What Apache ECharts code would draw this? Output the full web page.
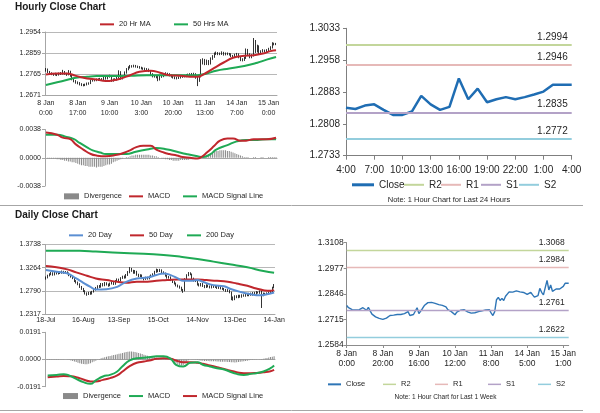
<!DOCTYPE html>
<html><head><meta charset="utf-8">
<script src="https://cdn.jsdelivr.net/npm/echarts@6/dist/echarts.min.js"></script>
<style>html,body{margin:0;padding:0;background:#fff}#c{width:600px;height:413px}</style>
</head><body><div id="c"></div>
<script>
// ---------- DATA ----------
const hourDays = [['8 Jan',0,23],['9 Jan',0,23],['10 Jan',0,23],['11 Jan',0,22],['14 Jan',0,23],['15 Jan',0,4]];
const hourlyClose = [1.2786,1.2775,1.2769,1.2765,1.2762,1.2764,1.2762,1.2765,1.2767,1.2775,
 1.2767,1.2762,1.2777,1.2759,1.2742,1.2734,1.2728,1.2725,1.2720,1.2717,
 1.2715,1.2717,1.2722,1.2723,1.2735,1.2739,1.2737,1.2739,1.2740,1.2742,
 1.2740,1.2749,1.2745,1.2754,1.2755,1.2735,1.2739,1.2740,1.2747,1.2775,
 1.2745,1.2755,1.2771,1.2786,1.2794,1.2801,1.2799,1.2802,1.2799,1.2797,
 1.2794,1.2791,1.2789,1.2787,1.2786,1.2779,1.2765,1.2755,1.2755,1.2752,
 1.2739,1.2752,1.2755,1.2762,1.2767,1.2765,1.2759,1.2754,1.2750,1.2747,
 1.2747,1.2749,1.2752,1.2755,1.2755,1.2759,1.2762,1.2764,1.2765,1.2765,
 1.2749,1.2735,1.2755,1.2816,1.2828,1.2812,1.2823,1.2812,1.2834,1.2843,
 1.2856,1.2860,1.2855,1.2856,1.2861,1.2853,1.2856,1.2856,1.2853,1.2846,
 1.2843,1.2851,1.2854,1.2841,1.2829,1.2829,1.2837,1.2874,1.2854,1.2841,
 1.2848,1.2915,1.2866,1.2891,1.2859,1.2866,1.2871,1.2866,1.2871,1.2877,
 1.2884,1.2900,1.2900,1.2900];
const hourlyFirstOpen = 1.2780;
const hourlyHigh = [1.2792,1.2790,1.2779,1.2773,1.2770,1.2771,1.2768,1.2772,1.2774,1.2784,
 1.2779,1.2771,1.2783,1.2780,1.2762,1.2746,1.2738,1.2732,1.2729,1.2724,
 1.2721,1.2722,1.2727,1.2728,1.2740,1.2744,1.2743,1.2745,1.2746,1.2748,
 1.2747,1.2755,1.2753,1.2760,1.2762,1.2759,1.2745,1.2746,1.2753,1.2782,
 1.2778,1.2760,1.2777,1.2792,1.2800,1.2806,1.2805,1.2807,1.2806,1.2803,
 1.2801,1.2798,1.2795,1.2794,1.2792,1.2790,1.2782,1.2769,1.2761,1.2759,
 1.2756,1.2757,1.2761,1.2768,1.2773,1.2771,1.2769,1.2763,1.2758,1.2755,
 1.2753,1.2755,1.2758,1.2761,1.2761,1.2764,1.2767,1.2769,1.2770,1.2771,
 1.2769,1.2753,1.2760,1.2832,1.2836,1.2833,1.2830,1.2828,1.2840,1.2850,
 1.2862,1.2866,1.2864,1.2862,1.2867,1.2865,1.2862,1.2862,1.2860,1.2858,
 1.2851,1.2856,1.2860,1.2858,1.2845,1.2836,1.2843,1.2880,1.2878,1.2858,
 1.2854,1.2927,1.2918,1.2897,1.2894,1.2872,1.2877,1.2875,1.2877,1.2883,
 1.2890,1.2908,1.2906,1.2905];
const hourlyLow = [1.2776,1.2770,1.2764,1.2760,1.2757,1.2758,1.2756,1.2758,1.2761,1.2763,
 1.2762,1.2757,1.2759,1.2753,1.2737,1.2728,1.2722,1.2719,1.2714,1.2711,
 1.2710,1.2711,1.2714,1.2717,1.2720,1.2731,1.2732,1.2733,1.2734,1.2736,
 1.2734,1.2736,1.2740,1.2741,1.2749,1.2730,1.2731,1.2734,1.2736,1.2744,
 1.2740,1.2741,1.2751,1.2767,1.2782,1.2790,1.2794,1.2795,1.2794,1.2792,
 1.2789,1.2786,1.2784,1.2782,1.2780,1.2774,1.2760,1.2750,1.2749,1.2746,
 1.2733,1.2736,1.2748,1.2751,1.2758,1.2760,1.2755,1.2749,1.2745,1.2742,
 1.2741,1.2743,1.2745,1.2748,1.2750,1.2751,1.2755,1.2758,1.2759,1.2759,
 1.2744,1.2711,1.2730,1.2750,1.2808,1.2805,1.2806,1.2805,1.2808,1.2829,
 1.2838,1.2851,1.2850,1.2850,1.2851,1.2848,1.2849,1.2850,1.2848,1.2841,
 1.2838,1.2839,1.2847,1.2836,1.2823,1.2822,1.2824,1.2833,1.2848,1.2836,
 1.2836,1.2844,1.2860,1.2862,1.2854,1.2855,1.2862,1.2861,1.2862,1.2867,
 1.2873,1.2880,1.2894,1.2895];
const hourlyMA20 = [[0,1.2763],[6,1.2768],[11,1.2768],[16,1.2757],[22,1.2745],[27,1.2741],[32,1.2734],[36,1.2737],[40,1.2745],[45,1.2760],[50,1.2775],[56,1.2780],[61,1.2771],[66,1.2760],[72,1.2757],[77,1.2753],[81,1.2753],[84,1.2763],[90,1.2793],[95,1.2817],[100,1.2838],[106,1.2847],[111,1.2850],[116,1.2857],[120,1.2868],[123,1.2872]];
const hourlyMA50 = [[0,1.2716],[6,1.2728],[11,1.2738],[16,1.2748],[22,1.2753],[27,1.2756],[36,1.2756],[45,1.2757],[54,1.2760],[63,1.2760],[72,1.2760],[81,1.2760],[86,1.2768],[91,1.2780],[98,1.2790],[106,1.2801],[113,1.2816],[118,1.2830],[123,1.2842]];
const hourlyMACD = [[0,0.0034],[6,0.0031],[9,0.0027],[13,0.0025],[16,0.0018],[20,0.0011],[24,0.0005],[27,0.0003],[32,0.0002],[38,0.0004],[41,0.0006],[45,0.0010],[48,0.0014],[52,0.0016],[56,0.0016],[59,0.0011],[63,0.0007],[66,0.0005],[70,0.0003],[73,0.0001],[77,0.0000],[81,-0.0001],[83,0.0001],[86,0.0007],[90,0.0016],[93,0.0023],[97,0.0026],[100,0.0026],[104,0.0023],[107,0.0023],[111,0.0025],[114,0.0025],[118,0.0025],[123,0.0027]];
const hourlySignal = [[0,0.0031],[6,0.0031],[11,0.0028],[15,0.0025],[18,0.0020],[22,0.0014],[25,0.0010],[29,0.0007],[32,0.0005],[38,0.0005],[43,0.0005],[48,0.0008],[54,0.0011],[59,0.0013],[65,0.0011],[70,0.0008],[75,0.0005],[81,0.0002],[84,0.0001],[88,0.0005],[91,0.0011],[97,0.0017],[102,0.0022],[107,0.0024],[113,0.0024],[118,0.0025],[123,0.0025]];
const hourlyDiv = [-0.0000,-0.0001,-0.0001,-0.0001,-0.0001,-0.0001,-0.0002,-0.0002,-0.0003,-0.0003,
 -0.0004,-0.0004,-0.0005,-0.0005,-0.0006,-0.0006,-0.0007,-0.0008,-0.0009,-0.0010,
 -0.0010,-0.0011,-0.0011,-0.0012,-0.0012,-0.0012,-0.0012,-0.0013,-0.0012,-0.0012,
 -0.0012,-0.0011,-0.0010,-0.0009,-0.0009,-0.0008,-0.0006,-0.0005,-0.0004,-0.0003,
 -0.0002,-0.0001,0.0000,0.0001,0.0001,0.0002,0.0003,0.0003,0.0004,0.0004,
 0.0004,0.0004,0.0004,0.0004,0.0004,0.0004,0.0003,0.0003,0.0002,0.0002,
 0.0001,0.0000,-0.0001,-0.0001,-0.0002,-0.0002,-0.0003,-0.0003,-0.0004,-0.0004,
 -0.0004,-0.0004,-0.0003,-0.0003,-0.0003,-0.0003,-0.0003,-0.0002,-0.0002,-0.0001,
 -0.0001,0.0000,0.0001,0.0002,0.0002,0.0003,0.0004,0.0005,0.0006,0.0007,
 0.0008,0.0009,0.0009,0.0010,0.0010,0.0010,0.0010,0.0009,0.0009,0.0008,
 0.0007,0.0006,0.0005,0.0004,0.0003,0.0002,0.0001,0.0001,0.0001,0.0000,
 0.0000,0.0001,0.0001,0.0000,0.0000,0.0001,0.0001,0.0000,0.0000,0.0001,
 0.0001,0.0001,0.0001,0.0001];
const hourlyTicks = ['1.2671','1.2765','1.2859','1.2954'];
const hourlyMacdTicks = ['-0.0038','0.0000','0.0038'];
const last24Start = 99;
const last24Ticks = ['1.2733','1.2808','1.2883','1.2958','1.3033'];
const levelNames = ['R2','R1','S1','S2'];
const levels24 = [1.2994, 1.2946, 1.2835, 1.2772];
const levelsWeek = [1.3068, 1.2984, 1.2761, 1.2622];
const weekTicks = ['1.2584','1.2715','1.2846','1.2977','1.3108'];

const dailyStart = [2012, 6, 18], dailyEnd = [2013, 0, 14];
const dailyLabelDates = ['18-Jul','16-Aug','13-Sep','15-Oct','14-Nov','13-Dec','14-Jan'];
const dailyFirstOpen = 1.3040;
const dailyClose = [1.3060,1.3100,1.3130,1.3150,1.3120,1.3160,1.3140,1.3170,1.3155,1.3180,
 1.3160,1.3175,1.3150,1.3110,1.3080,1.3050,1.2990,1.2960,1.2930,1.2870,
 1.2830,1.2790,1.2740,1.2720,1.2750,1.2730,1.2770,1.2810,1.2850,1.2880,
 1.2870,1.2930,1.2900,1.2950,1.2920,1.2900,1.2940,1.2960,1.2930,1.2990,
 1.3020,1.3000,1.3050,1.3080,1.3060,1.3110,1.3170,1.3240,1.3200,1.3160,
 1.3190,1.3120,1.3090,1.3110,1.3050,1.3030,1.3060,1.3040,1.3080,1.3100,
 1.3130,1.3180,1.3210,1.3190,1.3220,1.3170,1.3150,1.3100,1.3060,1.3070,
 1.3010,1.2970,1.2940,1.2900,1.2880,1.2860,1.2810,1.2790,1.3030,1.3110,
 1.3150,1.3130,1.3040,1.3000,1.2990,1.2920,1.2900,1.2930,1.2890,1.2870,
 1.2900,1.2880,1.2860,1.2890,1.2870,1.2880,1.2850,1.2870,1.2840,1.2830,
 1.2810,1.2790,1.2800,1.2760,1.2650,1.2620,1.2680,1.2660,1.2690,1.2670,
 1.2700,1.2690,1.2720,1.2700,1.2730,1.2710,1.2740,1.2730,1.2760,1.2750,
 1.2770,1.2700,1.2730,1.2720,1.2740,1.2755,1.2760,1.2855,1.2870];
const dailyHigh = [1.3085,1.3120,1.3150,1.3175,1.3170,1.3185,1.3180,1.3195,1.3190,1.3205,
 1.3200,1.3195,1.3190,1.3165,1.3125,1.3100,1.3065,1.3010,1.2980,1.2945,
 1.2890,1.2850,1.2805,1.2760,1.2770,1.2775,1.2790,1.2830,1.2870,1.2905,
 1.2910,1.2950,1.2950,1.2970,1.2965,1.2940,1.2960,1.2985,1.2980,1.3010,
 1.3045,1.3040,1.3070,1.3100,1.3105,1.3135,1.3195,1.3275,1.3260,1.3220,
 1.3215,1.3200,1.3140,1.3130,1.3125,1.3070,1.3080,1.3080,1.3100,1.3125,
 1.3150,1.3200,1.3245,1.3235,1.3240,1.3230,1.3190,1.3165,1.3120,1.3095,
 1.3085,1.3030,1.2990,1.2960,1.2920,1.2900,1.2875,1.2830,1.3050,1.3130,
 1.3175,1.3170,1.3145,1.3060,1.3025,1.3005,1.2945,1.2950,1.2950,1.2910,
 1.2925,1.2920,1.2900,1.2910,1.2910,1.2905,1.2900,1.2890,1.2890,1.2860,
 1.2850,1.2830,1.2825,1.2815,1.2775,1.2675,1.2700,1.2700,1.2710,1.2710,
 1.2720,1.2720,1.2740,1.2740,1.2750,1.2755,1.2765,1.2770,1.2785,1.2775,
 1.2800,1.2790,1.2755,1.2750,1.2760,1.2775,1.2800,1.2875,1.2930];
const dailyLow = [1.3020,1.3045,1.3085,1.3110,1.3100,1.3105,1.3125,1.3125,1.3135,1.3140,
 1.3140,1.3145,1.3130,1.3090,1.3060,1.3030,1.2970,1.2940,1.2905,1.2850,
 1.2810,1.2765,1.2715,1.2690,1.2705,1.2710,1.2715,1.2755,1.2795,1.2830,
 1.2850,1.2855,1.2880,1.2885,1.2900,1.2875,1.2885,1.2920,1.2910,1.2915,
 1.2975,1.2980,1.2985,1.3035,1.3040,1.3045,1.3095,1.3150,1.3180,1.3140,
 1.3140,1.3100,1.3070,1.3070,1.3030,1.3005,1.3015,1.3020,1.3025,1.3060,
 1.3085,1.3115,1.3160,1.3170,1.3175,1.3150,1.3130,1.3080,1.3040,1.3040,
 1.2990,1.2950,1.2920,1.2880,1.2860,1.2835,1.2790,1.2750,1.2780,1.3015,
 1.3090,1.3110,1.3020,1.2980,1.2970,1.2900,1.2880,1.2880,1.2870,1.2845,
 1.2850,1.2860,1.2840,1.2840,1.2850,1.2850,1.2830,1.2830,1.2820,1.2810,
 1.2790,1.2770,1.2770,1.2740,1.2600,1.2590,1.2600,1.2640,1.2640,1.2650,
 1.2650,1.2670,1.2670,1.2680,1.2680,1.2690,1.2690,1.2710,1.2710,1.2735,
 1.2730,1.2440,1.2680,1.2700,1.2705,1.2715,1.2730,1.2750,1.2840];
const dailyMA20 = [[0,1.3216],[6,1.3182],[12,1.3147],[17,1.3044],[21,1.2955],[25,1.2872],[28,1.2817],[34,1.2824],[40,1.2872],[45,1.2975],[51,1.3044],[57,1.3065],[62,1.3113],[66,1.3147],[70,1.3113],[74,1.3044],[77,1.2996],[81,1.2996],[85,1.3010],[88,1.2975],[94,1.2907],[100,1.2886],[103,1.2838],[109,1.2769],[115,1.2721],[120,1.2701],[124,1.2721],[128,1.2756]];
const dailyMA50 = [[0,1.3298],[6,1.3271],[12,1.3230],[17,1.3168],[23,1.3099],[28,1.3044],[34,1.3010],[40,1.2975],[45,1.2955],[51,1.2975],[57,1.2975],[62,1.2996],[68,1.3010],[74,1.3024],[79,1.3024],[85,1.3024],[90,1.3010],[96,1.2996],[102,1.2975],[107,1.2941],[113,1.2893],[118,1.2838],[122,1.2804],[126,1.2790],[128,1.2804]];
const dailyMA200 = [[0,1.3608],[19,1.3608],[28,1.3594],[47,1.3559],[66,1.3525],[75,1.3491],[85,1.3443],[94,1.3388],[103,1.3333],[113,1.3271],[122,1.3195],[128,1.3161]];
const dailyMACD = [[1,-0.0112],[6,-0.0108],[10,-0.0103],[13,-0.0112],[17,-0.0136],[21,-0.0159],[25,-0.0171],[28,-0.0147],[32,-0.0119],[36,-0.0108],[40,-0.0084],[43,-0.0047],[47,-0.0007],[51,0.0009],[55,0.0012],[58,0.0016],[62,0.0023],[66,0.0023],[70,0.0005],[73,-0.0037],[77,-0.0049],[81,-0.0023],[85,-0.0019],[88,-0.0037],[92,-0.0049],[96,-0.0061],[100,-0.0070],[103,-0.0084],[107,-0.0101],[111,-0.0108],[115,-0.0101],[118,-0.0096],[122,-0.0084],[126,-0.0061],[128,-0.0042]];
const dailySignal = [[1,-0.0124],[6,-0.0119],[10,-0.0115],[13,-0.0117],[17,-0.0124],[21,-0.0140],[25,-0.0154],[28,-0.0154],[32,-0.0143],[36,-0.0131],[40,-0.0112],[43,-0.0084],[47,-0.0047],[51,-0.0023],[55,-0.0014],[58,-0.0007],[62,0.0005],[66,0.0009],[70,0.0005],[73,-0.0007],[77,-0.0019],[81,-0.0019],[85,-0.0023],[88,-0.0030],[92,-0.0042],[96,-0.0054],[100,-0.0066],[103,-0.0077],[107,-0.0089],[111,-0.0096],[115,-0.0096],[118,-0.0094],[122,-0.0089],[126,-0.0082],[128,-0.0073]];
const dailyDiv = [0.0002,0.0003,0.0003,0.0004,0.0004,0.0004,0.0003,0.0003,0.0002,0.0002,
 0.0001,0.0000,-0.0002,-0.0004,-0.0007,-0.0010,-0.0014,-0.0018,-0.0022,-0.0026,
 -0.0029,-0.0032,-0.0034,-0.0033,-0.0030,-0.0026,-0.0020,-0.0014,-0.0008,-0.0002,
 0.0004,0.0008,0.0012,0.0016,0.0019,0.0022,0.0025,0.0028,0.0031,0.0034,
 0.0037,0.0040,0.0043,0.0046,0.0049,0.0052,0.0054,0.0056,0.0056,0.0055,
 0.0053,0.0050,0.0046,0.0042,0.0038,0.0034,0.0030,0.0027,0.0024,0.0021,
 0.0018,0.0015,0.0012,0.0010,0.0008,0.0006,0.0004,0.0002,0.0000,-0.0002,
 -0.0006,-0.0012,-0.0020,-0.0028,-0.0035,-0.0040,-0.0042,-0.0038,-0.0028,-0.0015,
 -0.0006,0.0000,0.0002,0.0001,-0.0002,-0.0004,-0.0006,-0.0008,-0.0009,-0.0010,
 -0.0010,-0.0011,-0.0012,-0.0012,-0.0013,-0.0013,-0.0014,-0.0014,-0.0015,-0.0015,
 -0.0016,-0.0016,-0.0017,-0.0018,-0.0019,-0.0020,-0.0021,-0.0020,-0.0018,-0.0016,
 -0.0014,-0.0012,-0.0010,-0.0008,-0.0006,-0.0004,-0.0003,-0.0002,-0.0001,0.0000,
 0.0001,0.0003,0.0005,0.0008,0.0011,0.0014,0.0017,0.0020,0.0023];
const dailyTicks = ['1.2317','1.2790','1.3264','1.3738'];
const dailyMacdTicks = ['-0.0191','0.0000','0.0191'];

// ---------- BUILD ----------
const hourCats = [];
hourDays.forEach(([d, a, b]) => { for (let h = a; h <= b; h++) hourCats.push(d + '\n' + h + ':00'); });
const last24Cats = hourCats.slice(last24Start).map(s => s.split('\n')[1]);
const last24Close = hourlyClose.slice(last24Start);
const hourlyOpen = [hourlyFirstOpen].concat(hourlyClose.slice(0, -1));
const hourlyOHLC = hourlyClose.map((c, i) => [hourlyOpen[i], c, hourlyLow[i], hourlyHigh[i]]);

const MON = ['Jan','Feb','Mar','Apr','May','Jun','Jul','Aug','Sep','Oct','Nov','Dec'];
const dayCats = [];
for (let t = Date.UTC(...dailyStart); t <= Date.UTC(...dailyEnd); t += 864e5) {
  const d = new Date(t), w = d.getUTCDay();
  if (w > 0 && w < 6) dayCats.push(d.getUTCDate() + '-' + MON[d.getUTCMonth()]);
}
const dailyOpen = [dailyFirstOpen].concat(dailyClose.slice(0, -1));
const dailyOHLC = dailyClose.map((c, i) => [dailyOpen[i], c, dailyLow[i], dailyHigh[i]]);

const FAM = '"Liberation Sans", Arial, sans-serif';
const TXT = '#262626';
const AX = '#a6a6a6';
const RED = '#c0272d', GREEN = '#1faa55', BLUE20 = '#5b8fd3', CLOSE = '#1f6db3';
const LVL = ['#c3d69b', '#e6b9b8', '#b3a2c7', '#93cddd'];

function nearest(labels) {
  return v => { let b = labels[0], bd = 1e9; labels.forEach(s => { const d = Math.abs(parseFloat(s) - v); if (d < bd) { bd = d; b = s; } }); return b; };
}
function yAx(grid, labels, fs, margin, split, axColor) {
  const lo = parseFloat(labels[0]), hi = parseFloat(labels[labels.length - 1]);
  return { type: 'value', gridIndex: grid, min: lo, max: hi, interval: (hi - lo) / (labels.length - 1),
    axisLine: { show: true, lineStyle: { color: axColor || AX } },
    axisTick: { show: true, length: 3, lineStyle: { color: axColor || AX } },
    axisLabel: { fontSize: fs, color: TXT, fontFamily: FAM, margin: margin, formatter: nearest(labels) },
    splitLine: { show: split, lineStyle: { color: '#b8b8b8', width: 1 } } };
}
const dailyShow = (i, v) => dailyLabelDates.indexOf(v) >= 0;

const disp = { h20: '20 Hr MA', h50: '50 Hrs MA', hdiv: 'Divergence', hmacd: 'MACD', hsig: 'MACD Signal Line',
  c24: 'Close', r2a: 'R2', r1a: 'R1', s1a: 'S1', s2a: 'S2', d20: '20 Day', d50: '50 Day', d200: '200 Day',
  ddiv: 'Divergence', dmacd: 'MACD', dsig: 'MACD Signal Line', wc: 'Close', r2b: 'R2', r1b: 'R1', s1b: 'S1', s2b: 'S2' };
function lg(name, left, cy, fs, iw, ih) {
  return { data: [{ name: name, icon: 'rect' }], left: left, top: cy - fs * 0.62, itemWidth: iw, itemHeight: ih,
    padding: 0, itemGap: 0, selectedMode: false, formatter: n => disp[n],
    textStyle: { fontSize: fs, color: TXT, fontFamily: FAM } };
}
function lineS(name, xi, data, color, width, smooth) {
  return { name: name, type: 'line', xAxisIndex: xi, yAxisIndex: xi, data: data, color: color, showSymbol: false, symbol: 'none',
    smooth: smooth, lineStyle: { color: color, width: width }, silent: true };
}
function levelS(name, xi, value, color, width, fs) {
  return { name: name, type: 'line', xAxisIndex: xi, yAxisIndex: xi, data: [], color: color, symbol: 'none',
    lineStyle: { color: color, width: width },
    markLine: { silent: true, symbol: ['none', 'none'], animation: false, precision: 4,
      lineStyle: { color: color, width: width, type: 'solid' },
      label: { position: 'insideEndTop', distance: [4, 3], formatter: value.toFixed(4), fontSize: fs, color: TXT, fontFamily: FAM },
      data: [{ yAxis: value }] } };
}
function candleS(xi, data) {
  return { type: 'candlestick', xAxisIndex: xi, yAxisIndex: xi, data: data, barWidth: 1, silent: true,
    itemStyle: { color: '#ffffff', color0: '#000000', borderColor: '#000000', borderColor0: '#000000', borderWidth: 0.8 } };
}

const grids = [
  { left: 45, top: 32, width: 232, height: 63 },
  { left: 45, top: 129.5, width: 232, height: 56.5 },
  { left: 346, top: 28.3, width: 225.7, height: 127.4 },
  { left: 45, top: 244.5, width: 230, height: 69.5 },
  { left: 45, top: 332.3, width: 230, height: 54.4 },
  { left: 346.7, top: 242.7, width: 222, height: 102.3 }
].map(g => Object.assign(g, { outerBoundsMode: 'none', containLabel: false }));

const xAxes = [
  { type: 'category', gridIndex: 0, data: hourCats, boundaryGap: true,
    axisLine: { lineStyle: { color: AX } }, axisTick: { alignWithLabel: true, interval: 16, length: 3, lineStyle: { color: AX } },
    axisLabel: { interval: 16, fontSize: 7, lineHeight: 10, margin: 3, color: TXT, fontFamily: FAM } },
  { type: 'category', gridIndex: 1, data: hourCats, boundaryGap: true,
    axisLine: { onZero: true, lineStyle: { color: AX } }, axisTick: { show: false }, axisLabel: { show: false } },
  { type: 'category', gridIndex: 2, data: last24Cats, boundaryGap: false,
    axisLine: { lineStyle: { color: '#7f7f7f' } }, axisTick: { interval: 2, length: 4, lineStyle: { color: '#7f7f7f' } },
    axisLabel: { interval: 2, fontSize: 10, margin: 10, color: TXT, fontFamily: FAM } },
  { type: 'category', gridIndex: 3, data: dayCats, boundaryGap: true,
    axisLine: { lineStyle: { color: AX } }, axisTick: { alignWithLabel: true, interval: dailyShow, length: 3, lineStyle: { color: AX } },
    axisLabel: { interval: dailyShow, fontSize: 7, margin: 3, color: TXT, fontFamily: FAM } },
  { type: 'category', gridIndex: 4, data: dayCats, boundaryGap: true,
    axisLine: { onZero: true, lineStyle: { color: AX } }, axisTick: { show: false }, axisLabel: { show: false } },
  { type: 'category', gridIndex: 5, data: hourCats, boundaryGap: false,
    axisLine: { lineStyle: { color: '#8c8c8c' } }, axisTick: { interval: 19, length: 3, lineStyle: { color: '#8c8c8c' } },
    axisLabel: { interval: 19, fontSize: 8.5, lineHeight: 10, margin: 4, color: TXT, fontFamily: FAM } }
];
const yAxes = [
  yAx(0, hourlyTicks, 7, 4, true),
  yAx(1, hourlyMacdTicks, 7, 4, false),
  yAx(2, last24Ticks, 10, 6, false, '#7f7f7f'),
  yAx(3, dailyTicks, 7, 4, true),
  yAx(4, dailyMacdTicks, 7, 4, false),
  yAx(5, weekTicks, 8.5, 3, false, '#8c8c8c')
];

const series = [
  candleS(0, hourlyOHLC),
  lineS('h50', 0, hourlyMA50, GREEN, 2, 0.5),
  lineS('h20', 0, hourlyMA20, RED, 2, 0.5),
  { name: 'hdiv', type: 'bar', xAxisIndex: 1, yAxisIndex: 1, data: hourlyDiv, barWidth: 0.9, color: '#8a8a8a', silent: true },
  lineS('hsig', 1, hourlySignal, GREEN, 2, 0.5),
  lineS('hmacd', 1, hourlyMACD, RED, 2, 0.5)
];
['r2a', 'r1a', 's1a', 's2a'].forEach((n, i) => series.push(levelS(n, 2, levels24[i], LVL[i], 2, 10)));
series.push(lineS('c24', 2, last24Close, CLOSE, 2.5, false));
series.push(
  candleS(3, dailyOHLC),
  lineS('d200', 3, dailyMA200, GREEN, 2, 0.5),
  lineS('d50', 3, dailyMA50, RED, 2, 0.5),
  lineS('d20', 3, dailyMA20, BLUE20, 2, 0.5),
  { name: 'ddiv', type: 'bar', xAxisIndex: 4, yAxisIndex: 4, data: dailyDiv, barWidth: 0.9, color: '#8a8a8a', silent: true },
  lineS('dsig', 4, dailySignal, RED, 2, 0.5),
  lineS('dmacd', 4, dailyMACD, GREEN, 2, 0.5)
);
['r2b', 'r1b', 's1b', 's2b'].forEach((n, i) => series.push(levelS(n, 5, levelsWeek[i], LVL[i], 1.3, 8.5)));
series.push(lineS('wc', 5, hourlyClose, '#2e75b6', 1.4, false));

const legends = [
  lg('h20', 100, 25, 7.5, 14, 2), lg('h50', 174, 25, 7.5, 14, 2),
  lg('hdiv', 64, 197, 7.5, 15, 6), lg('hmacd', 129, 197, 7.5, 14, 2), lg('hsig', 183, 197, 7.5, 14, 2),
  lg('c24', 352, 186, 10, 22, 3), lg('r2a', 404, 186, 10, 20, 2), lg('r1a', 441, 186, 10, 20, 2), lg('s1a', 481, 186, 10, 20, 2), lg('s2a', 519, 186, 10, 20, 2),
  lg('d20', 69, 236, 7.5, 14, 2), lg('d50', 130, 236, 7.5, 14, 2), lg('d200', 187, 236, 7.5, 14, 2),
  lg('ddiv', 63, 396.7, 7.5, 15, 6), lg('dmacd', 129, 396.7, 7.5, 14, 2), lg('dsig', 183, 396.7, 7.5, 14, 2),
  lg('wc', 328, 385, 7.5, 13, 2), lg('r2b', 383, 385, 7.5, 13, 1.5), lg('r1b', 435, 385, 7.5, 13, 1.5), lg('s1b', 488, 385, 7.5, 13, 1.5), lg('s2b', 538, 385, 7.5, 13, 1.5)
];

const chart = echarts.init(document.getElementById('c'), null, { renderer: 'canvas' });
chart.setOption({
  animation: false,
  backgroundColor: '#ffffff',
  textStyle: { fontFamily: FAM },
  title: [
    { text: 'Hourly Close Chart', left: 15, top: 2.5, padding: 0, textStyle: { fontSize: 10, fontWeight: 'bold', color: '#1a1a1a', fontFamily: FAM } },
    { text: 'Daily Close Chart', left: 15, top: 210.5, padding: 0, textStyle: { fontSize: 10, fontWeight: 'bold', color: '#1a1a1a', fontFamily: FAM } }
  ],
  graphic: [
    { type: 'line', silent: true, shape: { x1: 0, y1: 205.5, x2: 583, y2: 205.5 }, style: { stroke: '#a6a6a6', lineWidth: 1 } },
    { type: 'line', silent: true, shape: { x1: 0, y1: 410.5, x2: 583, y2: 410.5 }, style: { stroke: '#a6a6a6', lineWidth: 1 } },
    { type: 'text', silent: true, x: 449, y: 200, style: { text: 'Note: 1 Hour Chart for Last 24 Hours', font: '7.5px "Liberation Sans", Arial, sans-serif', fill: TXT, align: 'center', verticalAlign: 'middle', textAlign: 'center', textVerticalAlign: 'middle' } },
    { type: 'text', silent: true, x: 445.5, y: 397.3, style: { text: 'Note: 1 Hour Chart for Last 1 Week', font: '6.5px "Liberation Sans", Arial, sans-serif', fill: TXT, align: 'center', verticalAlign: 'middle', textAlign: 'center', textVerticalAlign: 'middle' } }
  ],
  legend: legends,
  grid: grids,
  xAxis: xAxes,
  yAxis: yAxes,
  series: series
});
</script></body></html>
